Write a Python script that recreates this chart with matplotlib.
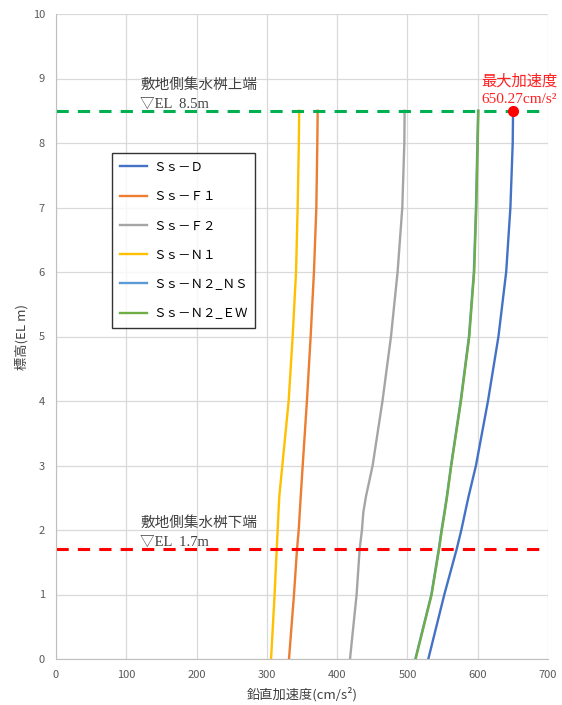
import matplotlib.pyplot as plt

plt.rcParams['font.family'] = ['Noto Sans CJK JP', 'DejaVu Sans']

# elevation points (m) and vertical acceleration (cm/s2) per wave
elev = [0.0, 1.0, 1.7, 2.0, 2.27, 2.52, 3.0, 4.0, 5.0, 6.0, 7.0, 8.0, 8.5]
ss_d = [529.7, 552.5, 570, 576.7, 582, 587, 597.5, 614.6, 629.5, 640.5, 646.5, 649.8, 650.27]
ss_f1 = [331.5, 338.6, 342.9, 345.3, 346.8, 348.2, 351, 357, 362.3, 367, 370.4, 371.8, 372.3]
ss_f2 = [418.3, 427.7, 432, 435.3, 437.2, 441, 450.5, 464.5, 476.6, 486, 492.7, 495.6, 496]
ss_n1 = [306, 311, 314, 315.4, 316.5, 317.7, 322, 331, 336.7, 341.5, 343.8, 345.5, 346]
ss_n2_ns = [511.2, 534, 544.5, 548.5, 552.5, 556, 562, 575.7, 587.5, 594.5, 597.5, 599.5, 600.5]
ss_n2_ew = [511.7, 534.5, 545, 549, 553, 556.5, 562.4, 576.2, 588, 595, 598, 600, 601]

labels = ['Ｓｓ－Ｄ', 'Ｓｓ－Ｆ１', 'Ｓｓ－Ｆ２', 'Ｓｓ－Ｎ１', 'Ｓｓ－Ｎ２_ＮＳ', 'Ｓｓ－Ｎ２_ＥＷ']
colors = ['#4472C4', '#ED7D31', '#A5A5A5', '#FFC000', '#5B9BD5', '#70AD47']
series = [ss_d, ss_f1, ss_f2, ss_n1, ss_n2_ns, ss_n2_ew]

top_el = 8.5
bot_el = 1.7
max_acc = 650.27

fig = plt.figure(figsize=(5.62, 7.05), dpi=100)
ax = fig.add_axes([56/562, 46/705, 492/562, 645/705])

for s, c, lab in zip(series, colors, labels):
    ax.plot(s, elev, color=c, lw=1.7, label=lab)

ax.axhline(top_el, color='#00B050', lw=2.2, ls=(0, (4, 3)))
ax.axhline(bot_el, color='#FF0000', lw=2.2, ls=(0, (4, 3)))
ax.plot([max_acc], [top_el], 'o', color='#FF0000', ms=7, zorder=5)

ann_font = ['Liberation Serif', 'Noto Sans CJK JP']
ax.text(120, 8.5, '敷地側集水桝上端\n▽EL  8.5m', fontsize=10.5, color='#404040',
        va='bottom', linespacing=1.55, family=ann_font)
ax.text(120, 1.71, '敷地側集水桝下端\n▽EL  1.7m', fontsize=10.5, color='#404040',
        va='bottom', linespacing=1.55, family=ann_font)
ax.text(605, 8.57, '最大加速度\n650.27cm/s²', fontsize=11, color='#FF2020',
        va='bottom', linespacing=1.5, family=ann_font)

ax.set_xlim(0, 700)
ax.set_ylim(0, 10)
ax.set_xticks(range(0, 701, 100))
ax.set_yticks(range(0, 11))
ax.grid(True, color='#D9D9D9', lw=0.9)
ax.set_axisbelow(True)
for sp in ['top', 'right']:
    ax.spines[sp].set_visible(False)
for sp in ['left', 'bottom']:
    ax.spines[sp].set_color('#BFBFBF')
ax.tick_params(colors='#595959', labelsize=8, length=0, pad=8)

ax.set_xlabel('鉛直加速度(cm/s²)', fontsize=9.5, color='#404040', labelpad=5)
ax.set_ylabel('標高(EL m)', fontsize=9.5, color='#404040', labelpad=3)

leg = ax.legend(loc='upper left', bbox_to_anchor=(0.114, 0.784), fontsize=9,
                frameon=True, fancybox=False, edgecolor='black', borderaxespad=0,
                handlelength=2.2, handletextpad=0.5, labelspacing=1.3,
                borderpad=0.6)
leg.get_frame().set_linewidth(1.0)

fig.savefig('out.png', dpi=100)
